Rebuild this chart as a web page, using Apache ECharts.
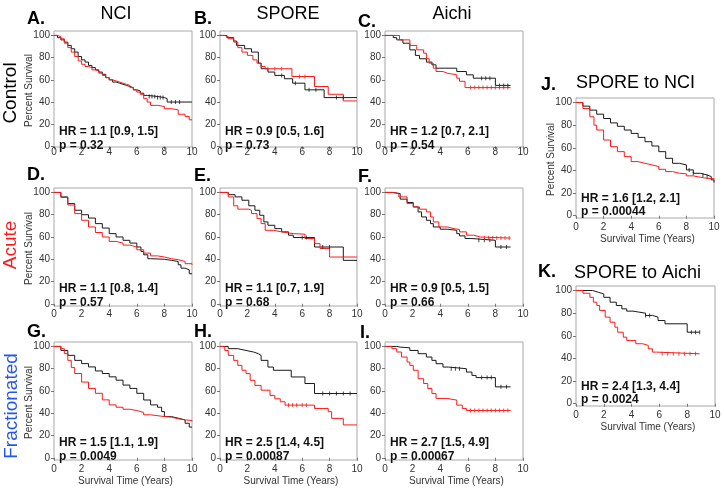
<!DOCTYPE html>
<html><head><meta charset="utf-8">
<script src="https://cdn.jsdelivr.net/npm/echarts@6/dist/echarts.min.js"></script>
<style>html,body{margin:0;padding:0;background:#fff}#c{width:724px;height:493px}</style>
</head><body><div id="c"></div>
<script>
// ---------- DATA ----------
const xTicks = [0, 2, 4, 6, 8, 10];
const yTicks = [0, 20, 40, 60, 80, 100];
const columnTitles = ['NCI', 'SPORE', 'Aichi'];
const rowTitles = ['Control', 'Acute', 'Fractionated'];
const panelLetters = ['A.', 'B.', 'C.', 'D.', 'E.', 'F.', 'G.', 'H.', 'I.', 'J.', 'K.'];
const sideTitles = ['SPORE to NCI', 'SPORE to Aichi'];
const hrLabels = ['HR = 1.1 [0.9, 1.5]', 'HR = 0.9 [0.5, 1.6]', 'HR = 1.2 [0.7, 2.1]',
  'HR = 1.1 [0.8, 1.4]', 'HR = 1.1 [0.7, 1.9]', 'HR = 0.9 [0.5, 1.5]',
  'HR = 1.5 [1.1, 1.9]', 'HR = 2.5 [1.4, 4.5]', 'HR = 2.7 [1.5, 4.9]',
  'HR = 1.6 [1.2, 2.1]', 'HR = 2.4 [1.3, 4.4]'];
const pLabels = ['p = 0.32', 'p = 0.73', 'p = 0.54', 'p = 0.57', 'p = 0.68', 'p = 0.66',
  'p = 0.0049', 'p = 0.00087', 'p = 0.00067', 'p = 0.00044', 'p = 0.0024'];
const yAxisName = 'Percent Survival';
const xAxisName = 'Survival Time (Years)';

// survival curves [years, percent]
const A_black = [[0,100],[0.25,98],[0.5,96],[0.75,94],[1,91],[1.25,88],[1.5,85],[1.75,81],[2,78],[2.25,76],[2.5,73],[2.75,71],[3,69],[3.25,67],[3.5,65],[3.75,62],[4,60],[4.25,58],[4.5,57],[4.75,56],[5,55],[5.25,54],[5.5,53],[5.75,51],[6,50],[6.25,48],[6.5,46],[6.75,45],[7.5,44],[8,43],[8.2,40],[10,40]];
const A_red = [[0,100],[0.25,99],[0.5,97],[0.75,93],[1,89],[1.25,85],[1.5,81],[1.75,77],[2,74],[2.25,72],[2.5,71],[2.75,69],[3,68],[3.25,66],[3.5,64],[3.75,62],[4,60],[4.25,59],[4.5,58],[4.75,57],[5,56],[5.25,55],[5.5,53],[5.75,51],[6,49],[6.25,47],[6.5,43],[6.75,40],[7,37],[7.5,36],[8,34],[8.5,33],[9,29],[9.5,27],[9.8,24],[10,24]];
const B_black = [[0,100],[0.5,98],[1,95],[1.2,91],[1.8,88],[2.3,85],[2.8,75],[3.0,70],[3.5,67],[4.0,64],[4.7,61],[5.3,57],[6.2,51],[7.6,44],[10,44]];
const B_red = [[0,100],[0.3,99],[0.6,97],[1,94],[1.3,89],[1.6,85],[2,82],[2.4,78],[2.7,75],[3.0,72],[3.3,70],[5.25,63],[6.9,54],[7.9,47],[9.0,41],[10,41]];
const C_black = [[0,100],[0.6,98],[0.85,96],[1.3,93],[1.8,87],[2.2,82],[2.5,79],[3.0,76],[3.4,73.5],[3.7,70.5],[5.2,67.5],[5.9,64.5],[6.4,61.5],[8.0,55],[9.1,55]];
const C_red = [[0,100],[1.05,96],[1.8,91],[2.3,87],[2.8,84],[3.0,79],[3.2,75],[3.5,70.5],[3.7,67.5],[4.2,66],[4.5,64.5],[5.2,61.5],[5.4,58.7],[5.8,53],[9.1,53]];
const D_black = [[0,100],[0.5,96],[1,90],[1.5,84],[2,80],[2.5,77],[3,72],[3.5,68],[4,63],[4.5,60],[5,57],[5.5,54.5],[6,51],[6.3,47],[6.5,44],[6.8,40.5],[7,40],[8,39],[8.5,38],[9,35],[9.2,32],[9.5,30.5],[9.8,27],[10,27]];
const D_red = [[0,100],[0.5,95.5],[1,88.7],[1.5,81],[2,75],[2.5,69],[3,64],[3.5,60],[4,56],[4.5,54.5],[5,52.7],[5.5,51],[6,48.5],[6.5,45.5],[7,43],[7.5,42],[8,40.5],[8.5,39.6],[9,38],[9.5,36],[10,35]];
const E_black = [[0,100],[0.6,98],[1.1,96],[1.6,93],[2.1,88],[2.55,84],[2.9,79.5],[3.2,73.5],[3.5,70.5],[4.0,67.5],[4.5,64.6],[5.0,61.6],[5.35,59.5],[6.9,51],[9.0,39],[10,39]];
const E_red = [[0,100],[0.6,96],[1.0,88],[1.3,85],[2.1,84],[2.3,81],[2.7,76.5],[3.0,72],[3.3,66],[3.9,64.6],[4.5,63],[5.35,62.5],[6.2,58.6],[6.9,54],[7.3,49.7],[8.0,42],[10,42]];
const F_black = [[0,100],[0.6,99],[1.1,94],[1.6,91],[2.05,87],[2.4,82.5],[2.65,78],[3.0,75],[3.3,72],[3.5,69],[4.0,67],[4.5,66],[5.2,63],[5.4,61],[5.8,58.6],[6.3,57],[8.0,51],[9.1,51]];
const F_red = [[0,100],[0.5,99],[1.0,96],[1.6,90],[2.05,87],[2.5,85],[3.0,82.5],[3.3,78],[3.5,73.5],[3.9,69],[4.5,67.5],[5.0,66.7],[5.4,64.6],[5.9,61.6],[6.4,60],[6.9,59],[9.1,59]];
const G_black = [[0,100],[0.5,96.4],[1,92],[1.5,87.5],[2,84.6],[2.5,81.6],[3,78],[3.5,75.7],[4,72.7],[4.5,69.7],[5,65.3],[5.5,62.3],[6,57.9],[6.5,51.9],[7,47.5],[7.5,45.4],[7.8,41.5],[8,37],[8.5,35.6],[9,34],[9.5,31],[9.8,27.6],[10,27.6]];
const G_red = [[0,100],[0.5,98],[0.75,93.5],[1,87.5],[1.25,81],[1.5,75.7],[2,68],[2.5,62.3],[3,57.9],[3.5,52],[4,47.5],[4.5,45.4],[5,43.6],[5.5,42.4],[6,40.7],[6.5,38.6],[7,37],[8,36.5],[8.5,35],[9,34],[9.5,33.5],[10,32.6]];
const H_black = [[0,100],[0.6,98],[1.3,96.4],[1.9,95],[2.45,93.5],[2.8,92],[3.0,87.5],[3.5,81.5],[3.9,78.6],[5.2,72.6],[6.2,66.7],[6.9,57.7],[10,57.7]];
const H_red = [[0,100],[0.35,96.4],[0.6,92],[1.0,87.5],[1.3,83],[1.6,78.6],[1.9,75.6],[2.2,69.6],[2.55,65],[3.0,60.7],[3.65,56],[4.0,53],[4.4,50.3],[4.75,47.3],[6.9,44.3],[7.9,41.4],[8.15,35.4],[9.0,29.5],[10,29.5]];
const I_black = [[0,100],[0.85,99.4],[1.1,98.8],[1.8,96.4],[2.4,93.5],[3.0,90.5],[3.4,87.5],[3.7,84.5],[4.2,81.5],[4.6,80],[5.9,77],[6.3,74],[6.6,72],[8.0,63.7],[9.1,63.7]];
const I_red = [[0,100],[0.5,98],[0.85,95],[1.2,90.5],[1.6,86],[1.8,83],[2.05,78.6],[2.4,71],[2.8,66.7],[3.1,62.2],[3.4,57.7],[3.7,53.3],[4.5,51.8],[5.2,47.3],[5.6,44.3],[5.9,42.5],[9.1,42.5]];
const J_black = [[0,100],[0.5,96.8],[1,93.3],[1.5,89.7],[2,85.9],[2.5,82],[3,79],[3.5,75.7],[4,72.7],[4.5,69.2],[5,65.4],[5.5,61.6],[6,56.6],[6.5,50.7],[7,46.3],[7.5,44.9],[8,40.5],[8.5,37.5],[9,36],[9.5,34.6],[9.8,31.7],[10,29.3]];
const J_red = [[0,100],[0.5,94.7],[1,87.4],[1.3,80],[1.5,75.7],[2,66.9],[2.5,61],[3,56.6],[3.5,52.2],[4,47.8],[4.5,46.3],[5,44.9],[5.5,43.4],[6,41],[6.5,39],[7,37.5],[7.5,37],[8,35.2],[8.5,34],[9,33.1],[9.5,32.6],[10,31.7]];
const K_black = [[0,100],[1.2,98.5],[1.6,97],[2.0,94],[2.45,89.7],[2.9,86.8],[3.3,83.8],[3.65,81.8],[4.1,81],[4.5,80],[5.0,78],[5.5,76.5],[5.9,73.5],[6.4,70.6],[8.0,63.2],[8.9,63.2]];
const K_red = [[0,100],[0.5,97.6],[1.0,94],[1.25,89.7],[1.5,86.8],[1.7,82.4],[2.1,76.5],[2.45,72],[2.8,67.6],[3.0,63.2],[3.4,58.8],[3.65,55.9],[4.3,53],[4.8,51.5],[5.2,48.5],[5.5,45.6],[5.8,44.1],[8.9,44.1]];

// censoring times (years)
const A_censBlack = [6.9,7.1,7.3,7.5,7.7,7.9,8.5,8.8,9.1];
const B_censBlack = [4.5,5.5,6.5,7.0,8.5,9.0];
const B_censRed = [3.5,4.0,4.5,5.8,6.2];
const C_censBlack = [7.0,7.3,7.6,8.3,8.6,8.9];
const C_censRed = [6.2,6.5,6.8,7.1,7.4,7.7,8.0,8.3,8.6,8.9];
const E_censBlack = [6.0,6.3,7.5,8.0];
const F_censBlack = [6.8,7.2,7.6,8.4,8.8];
const F_censRed = [7.2,7.5,7.8,8.1,8.4,8.7,9.0];
const H_censBlack = [7.5,8.0,8.5,9.0,9.5];
const H_censRed = [5.0,5.3,5.6,6.0,6.3];
const I_censBlack = [4.8,5.1,5.4,7.0,7.4,7.7,8.4,8.8];
const I_censRed = [6.2,6.5,6.8,7.1,7.4,7.7,8.0,8.3,8.6,8.9];
const J_censBlack = [8.2,8.5,9.2,9.5];
const K_censBlack = [5.0,5.3,8.3,8.6,8.9];
const K_censRed = [6.2,6.6,7.0,7.4,7.8,8.2,8.6];

// ---------- LAYOUT ----------
const FONT = 'Liberation Sans, Arial, Helvetica, sans-serif';
const BLACK = '#1a1a1a', RED = '#ff1a1a';
const R1 = {t:31, h:116, xm:0, ymin:-0.5, hrDy:15, pDy:1.5};
const R2 = {t:188, h:118, xm:3, ymin:-2, hrDy:17.5, pDy:3.5};
const R3 = {t:342, h:118, xm:4, ymin:-2, hrDy:17.5, pDy:3.5};
const RS = {xm:4, ymin:-2, hrDy:19, pDy:6, h:120};
const panels = [
  Object.assign({l:54,  w:138, black:A_black, red:A_red, cb:A_censBlack, cr:[], yname:true}, R1),
  Object.assign({l:220, w:137, black:B_black, red:B_red, cb:B_censBlack, cr:B_censRed}, R1),
  Object.assign({l:385, w:138, black:C_black, red:C_red, cb:C_censBlack, cr:C_censRed}, R1),
  Object.assign({l:54,  w:138, black:D_black, red:D_red, cb:[], cr:[], yname:true}, R2),
  Object.assign({l:220, w:137, black:E_black, red:E_red, cb:E_censBlack, cr:[]}, R2),
  Object.assign({l:385, w:138, black:F_black, red:F_red, cb:F_censBlack, cr:F_censRed}, R2),
  Object.assign({l:54,  w:138, black:G_black, red:G_red, cb:[], cr:[], yname:true, xname:true}, R3),
  Object.assign({l:220, w:137, black:H_black, red:H_red, cb:H_censBlack, cr:H_censRed, xname:true}, R3),
  Object.assign({l:385, w:138, black:I_black, red:I_red, cb:I_censBlack, cr:I_censRed, xname:true}, R3),
  Object.assign({l:576, t:98,  w:138, black:J_black, red:J_red, cb:J_censBlack, cr:[], yname:true, xname:true}, RS),
  Object.assign({l:576, t:286, w:139, black:K_black, red:K_red, cb:K_censBlack, cr:K_censRed, xname:true}, RS)
];
const letterPos = [[27,19.5],[194,19.5],[358,22],[27,175],[194,176],[358,177],[27,332],[194,332],[360,333],[541,85],[538,272]];
const colTitlePos = [[116,14],[288,14],[452,14]];
const rowTitlePos = [[11,93,'#000'],[11,245,'#ff1a1a'],[12,406,'#2456f0']];
const sideTitlePos = [[576,83],[574,273]];

function stepValue(curve, t) {
  let v = curve[0][1];
  for (const p of curve) { if (p[0] <= t) v = p[1]; }
  return v;
}

const grid = [], xAxis = [], yAxis = [], series = [], graphic = [];
panels.forEach((p, i) => {
  grid.push({left:p.l, top:p.t, width:p.w, height:p.h, show:true, borderColor:'#a8a8a8', borderWidth:1, containLabel:false});
  xAxis.push({
    type:'value', gridIndex:i, min:0, max:10, interval:2,
    axisLine:{show:false}, splitLine:{show:false},
    axisTick:{show:true, length:3, lineStyle:{color:'#777'}},
    axisLabel:{fontSize:10, color:'#333', margin:p.xm, fontFamily:FONT, customValues:xTicks}
  });
  yAxis.push({
    type:'value', gridIndex:i, min:p.ymin, max:104,
    axisLine:{show:false}, splitLine:{show:false},
    axisTick:{show:true, length:3, lineStyle:{color:'#777'}, customValues:yTicks},
    axisLabel:{fontSize:10, color:'#333', margin:4, fontFamily:FONT, customValues:yTicks}
  });
  series.push({type:'line', xAxisIndex:i, yAxisIndex:i, step:'end', data:p.black, showSymbol:false,
    lineStyle:{color:BLACK, width:1}, itemStyle:{color:BLACK}, z:2});
  series.push({type:'line', xAxisIndex:i, yAxisIndex:i, step:'end', data:p.red, showSymbol:false,
    lineStyle:{color:RED, width:1}, itemStyle:{color:RED}, z:3});
  if (p.cb.length) series.push({type:'scatter', xAxisIndex:i, yAxisIndex:i, symbol:'rect', symbolSize:[1,4],
    data:p.cb.map(t => [t, stepValue(p.black, t)]), itemStyle:{color:BLACK}, z:4});
  if (p.cr.length) series.push({type:'scatter', xAxisIndex:i, yAxisIndex:i, symbol:'rect', symbolSize:[1,4],
    data:p.cr.map(t => [t, stepValue(p.red, t)]), itemStyle:{color:RED}, z:4});
  const bottom = p.t + p.h;
  graphic.push({type:'text', x:p.l + 5, y:bottom - p.hrDy, z:10,
    style:{text:hrLabels[i], font:'bold 12px ' + FONT, fill:'#111', align:'left', verticalAlign:'middle'}});
  graphic.push({type:'text', x:p.l + 5, y:bottom - p.pDy, z:10,
    style:{text:pLabels[i], font:'bold 12px ' + FONT, fill:'#111', align:'left', verticalAlign:'middle'}});
  graphic.push({type:'text', x:letterPos[i][0], y:letterPos[i][1], z:10,
    style:{text:panelLetters[i], font:'bold 18px ' + FONT, fill:'#000', align:'left', verticalAlign:'middle'}});
  if (p.yname) graphic.push({type:'text', x:p.l - 24.5, y:p.t + p.h / 2 + 1.5, rotation:Math.PI/2, z:10,
    style:{text:yAxisName, font:'10px ' + FONT, fill:'#333', align:'center', verticalAlign:'middle'}});
  if (p.xname) graphic.push({type:'text', x:p.l + p.w / 2 + 2.5, y:bottom + 21, z:10,
    style:{text:xAxisName, font:'10px ' + FONT, fill:'#333', align:'center', verticalAlign:'middle'}});
});
columnTitles.forEach((t, i) => graphic.push({type:'text', x:colTitlePos[i][0], y:colTitlePos[i][1],
  style:{text:t, font:'18px ' + FONT, fill:'#000', align:'center', verticalAlign:'middle'}}));
sideTitles.forEach((t, i) => graphic.push({type:'text', x:sideTitlePos[i][0], y:sideTitlePos[i][1],
  style:{text:t, font:'18px ' + FONT, fill:'#000', align:'left', verticalAlign:'middle'}}));
rowTitles.forEach((t, i) => graphic.push({type:'text', x:rowTitlePos[i][0], y:rowTitlePos[i][1], rotation:Math.PI/2,
  style:{text:t, font:'19px ' + FONT, fill:rowTitlePos[i][2], align:'center', verticalAlign:'middle'}}));

const chart = echarts.init(document.getElementById('c'), null, {renderer:'canvas'});
chart.setOption({animation:false, backgroundColor:'#fff', grid, xAxis, yAxis, series, graphic});
</script></body></html>
